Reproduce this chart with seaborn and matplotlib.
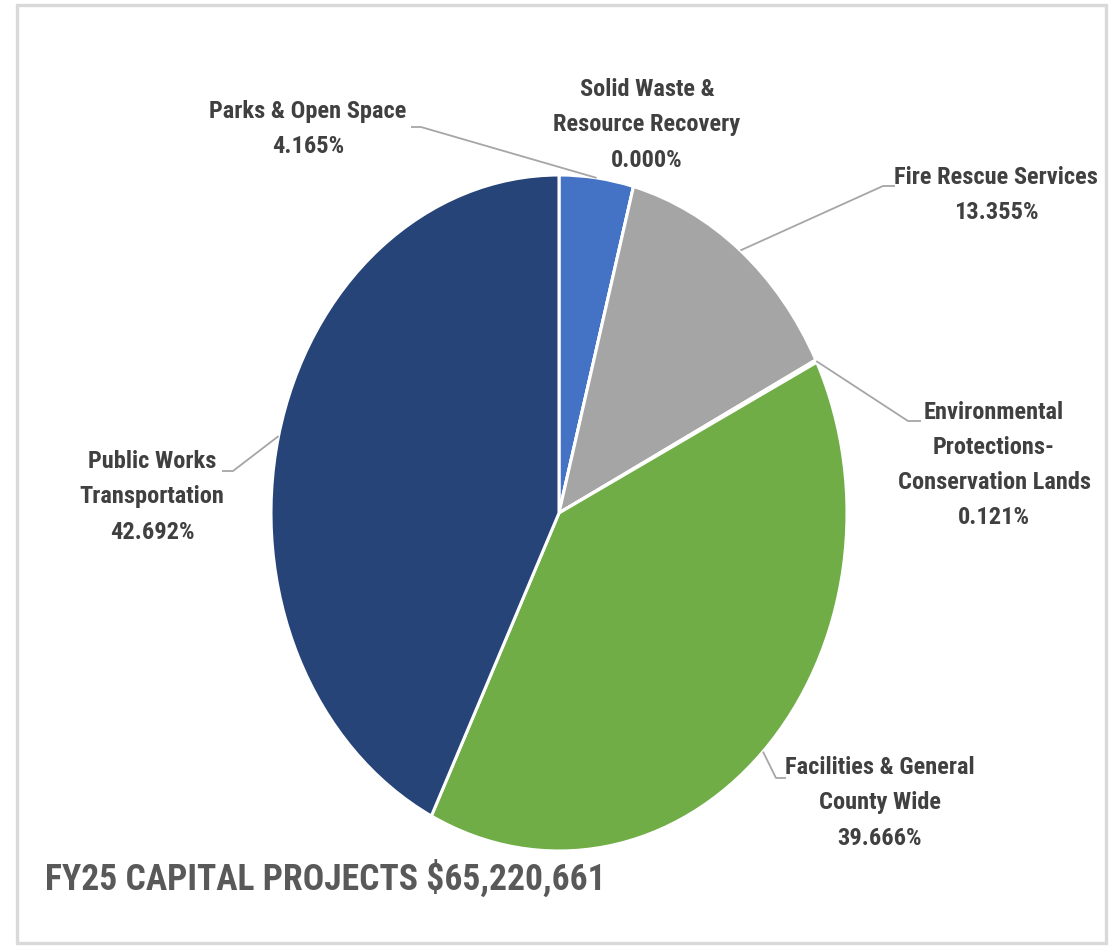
import matplotlib
matplotlib.use("Agg")
import numpy as np
import matplotlib.pyplot as plt
import seaborn as sns
from matplotlib import font_manager
from matplotlib.patches import Rectangle

# Capital project budget shares by department (percent)
categories = [
    "Parks & Open Space",
    "Solid Waste &\nResource Recovery",
    "Fire Rescue Services",
    "Environmental\nProtections-\nConservation Lands",
    "Facilities & General\nCounty Wide",
    "Public Works\nTransportation",
]
shares = [4.165, 0.000, 13.355, 0.121, 39.666, 42.692]
slice_colors = ["#4472C4", "#FFC000", "#A5A5A5", "#ED7D31", "#70AD47", "#264478"]
title_text = "FY25 CAPITAL PROJECTS $65,220,661"

W, H = 1119, 952

sns.set_theme(style="white")
available = {f.name for f in font_manager.fontManager.ttflist}
family = next(f for f in ["Roboto Condensed", "Liberation Sans Narrow", "Open Sans Condensed",
                          "Lato", "DejaVu Sans"] if f in available)
plt.rcParams["font.family"] = [family, "DejaVu Sans"]

fig = plt.figure(figsize=(W / 100, H / 100), dpi=100)
fig.patch.set_facecolor("white")

# Pie drawn as an upright ellipse: centre and radii in pixels
cx, cy, rx, ry = 559, 513, 288, 338
ax = fig.add_axes([(cx - rx) / W, (H - cy - ry) / H, 2 * rx / W, 2 * ry / H])
wedges, _ = ax.pie(shares, colors=slice_colors, startangle=90, counterclock=False,
                   radius=1, wedgeprops=dict(edgecolor="white", linewidth=2.2))
ax.set_aspect("auto")
ax.set_xlim(-1, 1)
ax.set_ylim(-1, 1)
ax.axis("off")

# Overlay in pixel coordinates for labels, leaders and frame
ov = fig.add_axes([0, 0, 1, 1])
ov.set_xlim(0, W)
ov.set_ylim(H, 0)
ov.axis("off")

ov.add_patch(Rectangle((17, 5), 1089, 938, fill=False, edgecolor="#D9D9D9", linewidth=2.4))


def edge_point(w):
    mid = np.deg2rad((w.theta1 + w.theta2) / 2)
    return cx + rx * np.cos(mid), cy - ry * np.sin(mid)


# label block centre, then leader elbow points (None = no leader)
label_layout = [
    ((308, 129), [(421, 127), (411, 127)]),
    ((647, 125), None),
    ((996, 195), [(883, 186), (895, 186)]),
    ((994, 465), [(908, 421), (921, 421)]),
    ((880, 803), [(776, 778), (786, 778)]),
    ((152, 497), [(233, 471), (222, 471)]),
]

text_color = "#404040"
for name, val, w, (pos, elbow) in zip(categories, shares, wedges, label_layout):
    ov.text(pos[0], pos[1], f"{name}\n{val:.3f}%", ha="center", va="center",
            fontsize=17.6, fontweight="bold", color=text_color, linespacing=1.68)
    if elbow is not None:
        px, py = edge_point(w)
        xs = [px] + [p[0] for p in elbow]
        ys = [py] + [p[1] for p in elbow]
        ov.plot(xs, ys, color="#A6A6A6", linewidth=1.3, solid_capstyle="butt")

ov.text(45, 879, title_text, ha="left", va="center", fontsize=25.7, fontweight="bold",
        color="#595959")

fig.savefig("out.png", dpi=100, facecolor="white")
